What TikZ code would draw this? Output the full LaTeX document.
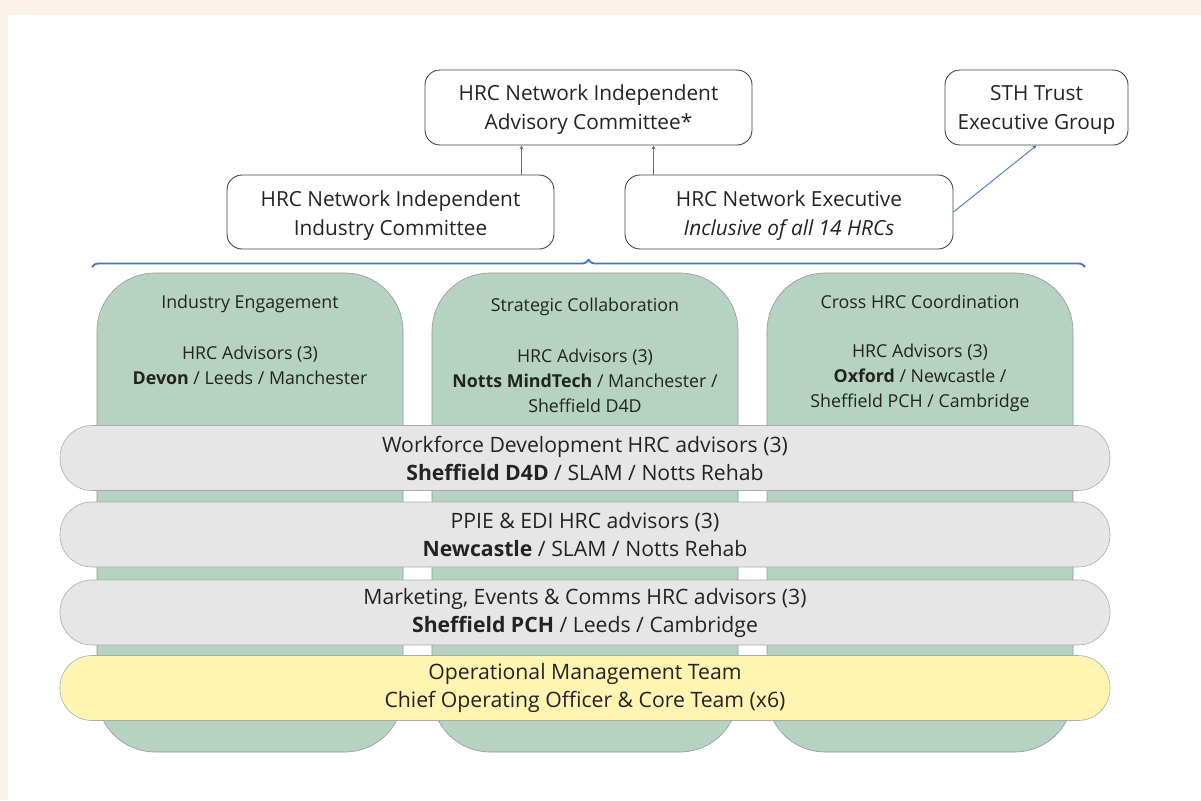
\documentclass[tikz,border=0pt]{standalone}
\usepackage{fontspec}
\setmainfont{Open Sans}
\usetikzlibrary{decorations.pathreplacing,arrows.meta,calc}

\definecolor{pagebeige}{RGB}{251,243,233}
\definecolor{linkblue}{RGB}{68,114,196}
\definecolor{teamgreen}{RGB}{181,211,192}
\definecolor{bandgrey}{RGB}{230,230,230}
\definecolor{opsyellow}{RGB}{255,244,178}
\definecolor{edgegrey}{RGB}{150,150,150}
\definecolor{inkgrey}{RGB}{35,35,35}

% strut that lowers the text block inside a fixed-size box
\newcommand{\toppad}[1]{\rule{0pt}{#1}}

\tikzset{
  govbox/.style={draw=inkgrey!85, line width=0.9pt, fill=white, rounded corners=15pt,
    align=center, text=inkgrey, font=\fontsize{20.8}{29}\selectfont, inner sep=0pt},
  colbox/.style={draw=edgegrey, line width=0.6pt, fill=teamgreen, rounded corners=58pt, inner sep=0pt},
  coltext/.style={align=center, text=inkgrey, font=\fontsize{17.8}{25}\selectfont, inner sep=0pt},
  band/.style={draw=edgegrey!80, line width=0.6pt, rounded corners=32pt, minimum width=1050pt,
    minimum height=65pt, align=center, text=inkgrey, font=\fontsize{21.2}{28}\selectfont, inner sep=0pt},
  conn/.style={draw=linkblue, line width=0.9pt, -{Stealth[length=4pt,width=4pt]}},
}

\begin{document}
\begin{tikzpicture}[x=1pt,y=-1pt]
\useasboundingbox (0,0) rectangle (1201,800);
% page margins
\fill[pagebeige] (0,0) rectangle (1201,15);
\fill[pagebeige] (0,0) rectangle (8,800);

% governance boxes
\node[govbox, minimum width=327pt, minimum height=75pt] (iac) at (588.5,107.5)
  {\toppad{20pt}HRC Network Independent\\Advisory Committee*};
\node[govbox, minimum width=183pt, minimum height=75pt] (sth) at (1036.5,107.5)
  {\toppad{20pt}STH Trust\\Executive Group};
\node[govbox, minimum width=327pt, minimum height=74pt] (iic) at (390.5,212)
  {\toppad{23pt}HRC Network Independent\\Industry Committee};
\node[govbox, minimum width=328pt, minimum height=74pt] (exe) at (789,212)
  {\toppad{23pt}HRC Network Executive\\\textit{Inclusive of all 14 HRCs}};

% reporting lines
\draw[conn] ($(iic.north east)+(-33,0)$) coordinate (a1) -- (a1 |- iac.south);
\draw[conn] ($(exe.north west)+(29,0)$) coordinate (a2) -- (a2 |- iac.south);
\draw[conn] (exe.east) -- (sth.south);

% brace over the operating structure
\coordinate (bl) at (92,267);
\coordinate (br) at (1085,267);
\draw[linkblue, line width=1.8pt, decorate, decoration={brace, amplitude=7pt}] (bl) -- (br);

% workstream columns
\node[colbox, minimum width=306pt, minimum height=479pt] (c1) at (250,512.5) {};
\node[colbox, minimum width=306pt, minimum height=479pt] (c2) at (585,512.5) {};
\node[colbox, minimum width=306pt, minimum height=479pt] (c3) at (920,512.5) {};

\node[coltext] (c1t) at (250,304) {Industry Engagement};
\node[coltext] (c1a) at (250,365) {HRC Advisors (3)\\\textbf{Devon} / Leeds / Manchester};
\node[coltext] (c2t) at (585,307) {Strategic Collaboration};
\node[coltext] (c2a) at (585,381) {HRC Advisors (3)\\\textbf{Notts MindTech} / Manchester /\\Sheffield D4D};
\node[coltext] (c3t) at (920,301.5) {Cross HRC Coordination};
\node[coltext] (c3a) at (920,377.5) {HRC Advisors (3)\\\textbf{Oxford} / Newcastle /\\Sheffield PCH / Cambridge};

% cross-cutting bands
\node[band, fill=bandgrey] (wd) at (585,458)
  {Workforce Development HRC advisors (3)\\\textbf{Sheffield D4D} / SLAM / Notts Rehab};
\node[band, fill=bandgrey] (pp) at (585,534.5)
  {PPIE \& EDI HRC advisors (3)\\\textbf{Newcastle} / SLAM / Notts Rehab};
\node[band, fill=bandgrey] (me) at (585,612.5)
  {Marketing, Events \& Comms HRC advisors (3)\\\textbf{Sheffield PCH} / Leeds / Cambridge};
\node[band, fill=opsyellow] (om) at (585,688)
  {Operational Management Team\\Chief Operating Officer \& Core Team (x6)};
\end{tikzpicture}
\end{document}
